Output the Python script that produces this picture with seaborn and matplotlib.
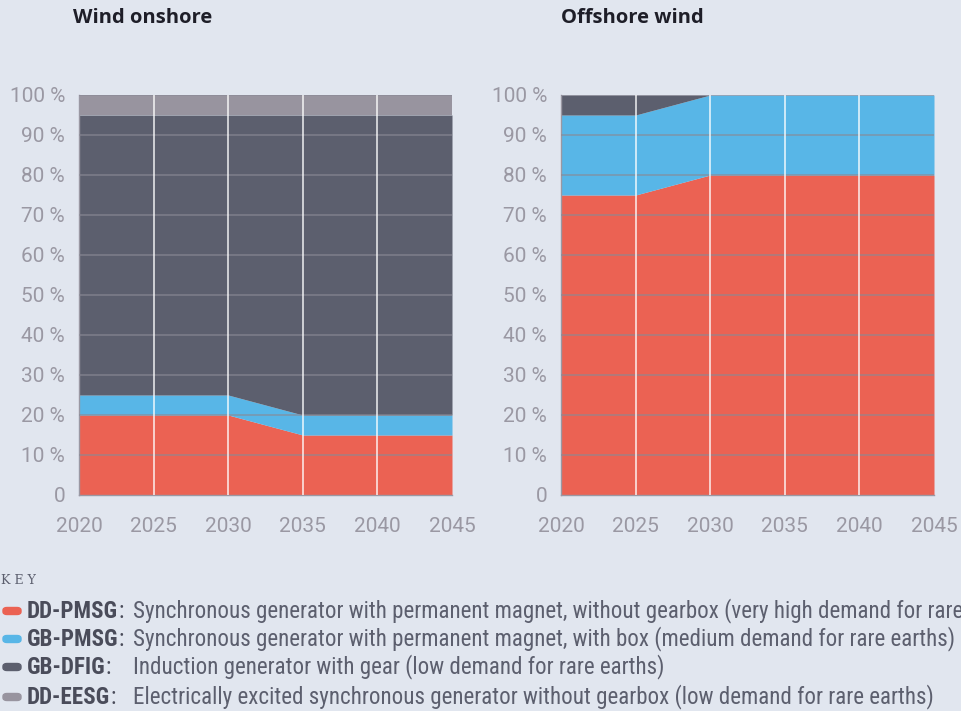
import numpy as np
import pandas as pd
import matplotlib.pyplot as plt
import seaborn as sns
from matplotlib.patches import FancyBboxPatch

# datos
years = [2020, 2025, 2030, 2035, 2040, 2045]
series = ["DD-PMSG", "GB-PMSG", "GB-DFIG", "DD-EESG"]
onshore_dd_pmsg = [20, 20, 20, 15, 15, 15]
onshore_gb_pmsg = [5, 5, 5, 5, 5, 5]
onshore_gb_dfig = [70, 70, 70, 75, 75, 75]
onshore_dd_eesg = [5, 5, 5, 5, 5, 5]
offshore_dd_pmsg = [75, 75, 80, 80, 80, 80]
offshore_gb_pmsg = [20, 20, 20, 20, 20, 20]
offshore_gb_dfig = [5, 5, 0, 0, 0, 0]
offshore_dd_eesg = [0, 0, 0, 0, 0, 0]
yticks = [0, 10, 20, 30, 40, 50, 60, 70, 80, 90, 100]
ytick_labels = ["0"] + [f"{v} %" for v in yticks[1:]]
descriptions = [
    "Synchronous generator with permanent magnet, without gearbox (very high demand for rare earths)",
    "Synchronous generator with permanent magnet, with box (medium demand for rare earths)",
    "Induction generator with gear (low demand for rare earths)",
    "Electrically excited synchronous generator without gearbox (low demand for rare earths)",
]

colores = ["#EB6253", "#58B6E7", "#5C5F6E", "#98949F"]
fondo = "#E1E6EF"
gris = "#9A98A3"

sns.set_theme(style="white", rc={"figure.facecolor": fondo, "axes.facecolor": fondo})
plt.rcParams["font.family"] = ["Roboto", "DejaVu Sans"]

fig = plt.figure(figsize=(9.61, 7.11), dpi=100)
W, H = 961, 711
titulo_font = ["Open Sans", "DejaVu Sans"]
leyenda_font = ["Roboto Condensed", "Liberation Sans Narrow", "Roboto", "DejaVu Sans"]

def make_ax(x0, xt, titulo, datos):
    ax = fig.add_axes([x0 / W, 1 - 495 / H, (452 - 79) / W, 400 / H])
    df = pd.DataFrame(dict(zip(series, datos)), index=years)
    ax.stackplot(df.index, [df[s] for s in series], colors=colores, linewidth=0)
    ax.set_xlim(2020, 2045)
    ax.set_ylim(0, 100)
    for v in yticks[1:]:
        ax.axhline(v, color="#8A8995", lw=1.1, alpha=0.75, zorder=3)
    for yr in years[1:-1]:
        ax.axvline(yr, color="white", lw=1.1, alpha=0.9, zorder=3)
    ax.set_xticks(years)
    ax.set_yticks(yticks)
    ax.set_yticklabels(ytick_labels)
    ax.tick_params(axis="x", direction="out", length=9, width=1, color=gris,
                   labelsize=15, labelcolor=gris, pad=7)
    ax.tick_params(axis="y", length=0, labelsize=15, labelcolor=gris, pad=10)
    for s in ["top", "right"]:
        ax.spines[s].set_visible(False)
    for s in ["left", "bottom"]:
        ax.spines[s].set_color(gris)
        ax.spines[s].set_linewidth(1)
    fig.text(xt / W, 1 - 18 / H, titulo, fontsize=14.5, fontweight="bold",
             color="#1E1E28", va="center", ha="left", family=titulo_font)
    return ax

make_ax(79, 73, "Wind onshore", [onshore_dd_pmsg, onshore_gb_pmsg, onshore_gb_dfig, onshore_dd_eesg])
make_ax(561, 561, "Offshore wind", [offshore_dd_pmsg, offshore_gb_pmsg, offshore_gb_dfig, offshore_dd_eesg])

# leyenda
fig.text(1 / W, 1 - 581 / H, "K E Y", fontsize=9, family="DejaVu Serif", color="#5C5F6E",
         va="center", ha="left")
filas = [611, 639, 667, 697]
fig.canvas.draw()
r = fig.canvas.get_renderer()
for i, s in enumerate(series):
    y = 1 - filas[i] / H
    fig.patches.append(FancyBboxPatch((3 / W, y - 3.5 / H), 18 / W, 7 / H,
                                      boxstyle="round,pad=0,rounding_size=0.004",
                                      transform=fig.transFigure, color=colores[i]))
    t = fig.text(27 / W, y, s, fontsize=16.6, fontweight="bold", color="#4A4C5A",
                 va="center", ha="left", family=leyenda_font)
    bb = t.get_window_extent(r)
    fig.text(bb.x1 / W, y, ":", fontsize=16.6, color="#4A4C5A",
             va="center", ha="left", family=leyenda_font)
    fig.text(133 / W, y, descriptions[i], fontsize=16.6, color="#5C5F6E",
             va="center", ha="left", family=leyenda_font)

fig.savefig("out.png", dpi=100, facecolor=fondo)
